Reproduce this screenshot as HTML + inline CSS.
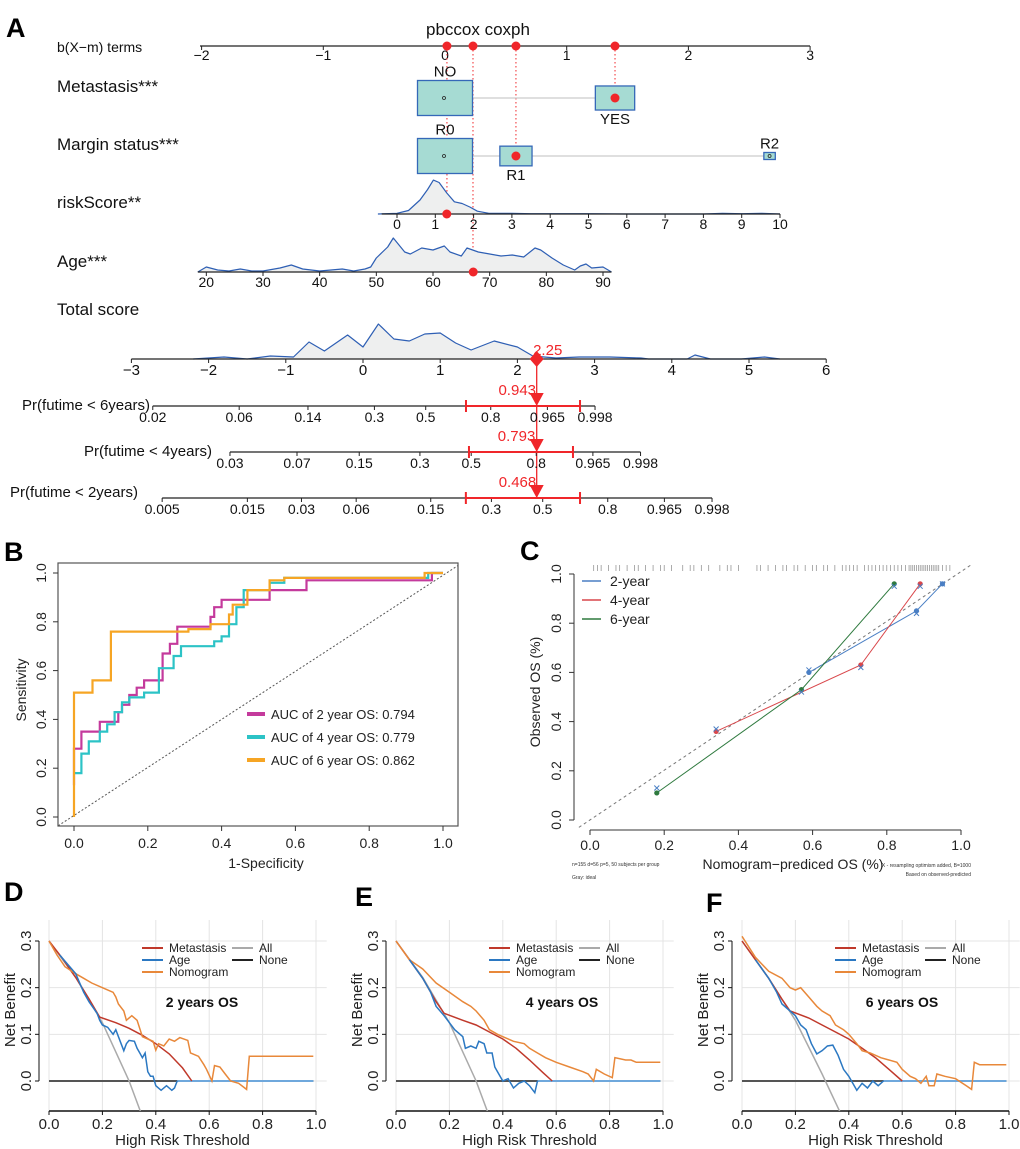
<!DOCTYPE html>
<html><head><meta charset="utf-8"><style>
html,body{margin:0;padding:0;background:#fff;}
svg{display:block;font-family:"Liberation Sans",Arial,sans-serif;}
</style></head><body>
<svg id="fig" width="1020" height="1149" viewBox="0 0 1020 1149">
<rect x="0" y="0" width="1020" height="1149" fill="#fff"/>
<text x="6" y="37" font-size="27" font-weight="bold">A</text>
<text x="4" y="561" font-size="27" font-weight="bold">B</text>
<text x="520" y="560" font-size="27" font-weight="bold">C</text>
<text x="4" y="901" font-size="27" font-weight="bold">D</text>
<text x="355" y="906" font-size="27" font-weight="bold">E</text>
<text x="706" y="912" font-size="27" font-weight="bold">F</text>
<g id="pa"></g>
<g id="pb"></g>
<g id="pc"></g>
<g id="pd"></g>
<g id="pe"></g>
<g id="pf"></g>
</svg>
<script>
// ---------- Panel A data ----------
const pointTicks=[-2,-1,0,1,2,3];
const termPoints=[0.016,0.23,0.583,1.397]; // riskScore, Age, Margin, Metastasis
const metCats=['NO','YES']; const metPoints=[0,1.397]; const metSizes=[1,0.55];
const marCats=['R0','R1','R2']; const marPoints=[0,0.583,2.667]; const marSizes=[1,0.45,0.16];
const riskTicks=[0,1,2,3,4,5,6,7,8,9,10];
const riskX=[-0.5,0,0.3,0.6,0.8,0.95,1.1,1.3,1.5,1.7,1.9,2.1,2.4,3,3.5,4,5,6,7,8,8.5,9,9.5,10];
const riskD=[0,0.02,0.1,0.4,0.7,0.97,0.9,0.6,0.35,0.3,0.2,0.08,0.02,0.02,0.01,0.01,0.01,0,0,0,0.02,0.01,0.02,0];
const riskValue=1.3;
const ageTicks=[20,30,40,50,60,70,80,90];
const ageX=[18.5,20,22,24,26,28,30,33,35,37,40,42,44,46,48,49,50,52,53,55,56,58,60,62,63,65,66,68,70,72,74,76,78,79,81,83,85,86,87,88,90,91.5];
const ageD=[0,5,2,1,3,1,1,4,7,3,1,2,3,1,3,5,14,25,34,20,18,24,22,26,20,16,24,20,18,16,17,15,24,22,14,7,2,6,8,4,5,0];
const ageValue=67.1;
const totTicks=[-3,-2,-1,0,1,2,3,4,5,6];
const totX=[-2.2,-1.8,-1.5,-1.2,-0.9,-0.7,-0.5,-0.2,0,0.2,0.4,0.6,0.8,1.0,1.2,1.4,1.7,2.0,2.2,2.5,2.8,3.2,3.6,3.7,4.2,4.3,4.5,4.9,5.2,5.4];
const totD=[0,2,0,3,2,17,8,24,12,35,20,18,25,26,16,9,18,12,3,1,2,2,1,0,0,4,0,0,2,0];
const totValue=2.25;
const prLabels=['Pr(futime < 6years)','Pr(futime < 4years)','Pr(futime < 2years)'];
const prTicks6=[0.02,0.06,0.14,0.3,0.5,0.8,0.965,0.998];
const prTicks4=[0.03,0.07,0.15,0.3,0.5,0.8,0.965,0.998];
const prTicks2=[0.005,0.015,0.03,0.06,0.15,0.3,0.5,0.8,0.965,0.998];
const prEst=[0.943,0.793,0.468];
const prLo=[0.689,0.49,0.226];
const prHi=[0.994,0.925,0.675];
// ---------- Panel B data ----------
const roc2F=[0,0,0.02,0.02,0.07,0.07,0.12,0.12,0.13,0.13,0.15,0.15,0.17,0.17,0.19,0.19,0.24,0.24,0.26,0.26,0.28,0.28,0.37,0.37,0.38,0.38,0.40,0.40,0.53,0.53,0.63,0.63,0.97,0.97,1];
const roc2T=[0.13,0.28,0.28,0.35,0.35,0.39,0.39,0.43,0.43,0.46,0.46,0.50,0.50,0.53,0.53,0.56,0.56,0.67,0.67,0.71,0.71,0.78,0.78,0.82,0.82,0.86,0.86,0.89,0.89,0.93,0.93,0.97,0.97,1,1];
const roc4F=[0,0.02,0.02,0.04,0.04,0.07,0.07,0.09,0.09,0.11,0.11,0.13,0.13,0.15,0.15,0.19,0.19,0.23,0.23,0.27,0.27,0.29,0.29,0.38,0.38,0.40,0.40,0.42,0.42,0.44,0.44,0.46,0.46,0.53,0.53,0.57,0.57,0.96,0.96,1];
const roc4T=[0.18,0.18,0.26,0.26,0.31,0.31,0.35,0.35,0.38,0.38,0.43,0.43,0.47,0.47,0.49,0.49,0.51,0.51,0.61,0.61,0.66,0.66,0.70,0.70,0.72,0.72,0.74,0.74,0.79,0.79,0.86,0.86,0.93,0.93,0.96,0.96,0.98,0.98,1,1];
const roc6F=[0,0,0.05,0.05,0.10,0.10,0.31,0.31,0.37,0.37,0.42,0.42,0.43,0.43,0.47,0.47,0.53,0.53,0.57,0.57,0.95,0.95,1];
const roc6T=[0,0.51,0.51,0.56,0.56,0.76,0.76,0.77,0.77,0.79,0.79,0.83,0.83,0.87,0.87,0.93,0.93,0.97,0.97,0.98,0.98,1,1];
const rocLegend=['AUC of 2 year OS:  0.794','AUC of 4 year OS:  0.779','AUC of 6 year OS:  0.862'];
const unitTicks=[0,0.2,0.4,0.6,0.8,1.0];
const unitLabels=['0.0','0.2','0.4','0.6','0.8','1.0'];
// ---------- Panel C data ----------
const cal2Pred=[0.59,0.88,0.95], cal2Obs=[0.60,0.85,0.96], cal2Adj=[0.61,0.84,0.96];
const cal4Pred=[0.34,0.73,0.89], cal4Obs=[0.36,0.63,0.96], cal4Adj=[0.37,0.62,0.95];
const cal6Pred=[0.18,0.57,0.82], cal6Obs=[0.11,0.53,0.96], cal6Adj=[0.13,0.52,0.95];
const rugVals=[0.01,0.02,0.03,0.05,0.07,0.08,0.1,0.12,0.13,0.15,0.17,0.19,0.2,0.22,0.25,0.27,0.28,0.3,0.32,0.35,0.37,0.38,0.4,0.45,0.46,0.48,0.5,0.52,0.53,0.55,0.56,0.58,0.6,0.61,0.63,0.64,0.66,0.68,0.69,0.7,0.71,0.72,0.74,0.75,0.76,0.77,0.78,0.79,0.8,0.81,0.82,0.83,0.84,0.85,0.86,0.865,0.87,0.875,0.88,0.885,0.89,0.895,0.9,0.905,0.91,0.915,0.92,0.925,0.93,0.935,0.94,0.95,0.96,0.97];
// ---------- Panel D/E/F data ----------
const dcaTicksY=[0,0.1,0.2,0.3];
const dcaLabelsY=['0.0','0.1','0.2','0.3'];
const dTitle='2 years OS', eTitle='4 years OS', fTitle='6 years OS';
const dAllT=[0,0.1,0.2,0.3,0.345], dAllNB=[0.3,0.222,0.125,0,-0.069];
const dMetT=[0,0.05,0.1,0.15,0.19,0.25,0.3,0.35,0.4,0.45,0.5,0.535], dMetNB=[0.3,0.263,0.222,0.176,0.137,0.125,0.113,0.098,0.08,0.058,0.028,0];
const dAgeT=[0.04,0.1,0.13,0.15,0.18,0.19,0.2,0.22,0.24,0.25,0.27,0.28,0.29,0.3,0.32,0.33,0.34,0.35,0.36,0.37,0.38,0.39,0.4,0.42,0.44,0.46,0.47,0.48];
const dAgeNB=[0.27,0.23,0.19,0.17,0.145,0.13,0.12,0.115,0.1,0.11,0.08,0.065,0.08,0.087,0.085,0.07,0.06,0.05,0.06,0.02,0.01,0.01,-0.01,-0.02,-0.01,-0.02,-0.015,0];
const dNomT=[0,0.03,0.06,0.1,0.13,0.16,0.2,0.24,0.25,0.26,0.28,0.29,0.31,0.33,0.35,0.37,0.39,0.4,0.41,0.43,0.45,0.47,0.49,0.52,0.53,0.56,0.58,0.59,0.61,0.62,0.64,0.66,0.68,0.71,0.74,0.75,0.99];
const dNomNB=[0.3,0.27,0.245,0.23,0.22,0.21,0.2,0.19,0.18,0.165,0.15,0.13,0.14,0.13,0.095,0.09,0.085,0.066,0.08,0.075,0.09,0.085,0.093,0.087,0.06,0.053,0.035,0.025,0,0.033,0.03,0.015,0,-0.005,-0.018,0.053,0.053];
const eAllT=[0,0.1,0.2,0.3,0.345], eAllNB=[0.3,0.222,0.125,0,-0.069];
const eMetT=[0,0.1,0.15,0.18,0.25,0.3,0.35,0.4,0.45,0.5,0.55,0.585], eMetNB=[0.3,0.22,0.17,0.145,0.13,0.12,0.105,0.09,0.07,0.045,0.018,0];
const eAgeT=[0.05,0.1,0.13,0.15,0.18,0.2,0.22,0.25,0.26,0.28,0.3,0.31,0.33,0.34,0.36,0.37,0.38,0.4,0.42,0.44,0.46,0.48,0.5,0.52,0.53];
const eAgeNB=[0.26,0.22,0.19,0.16,0.14,0.125,0.11,0.095,0.07,0.075,0.07,0.085,0.08,0.06,0.06,0.03,0.02,0,0.005,-0.015,-0.005,0,-0.01,-0.025,0];
const eNomT=[0,0.05,0.1,0.15,0.2,0.25,0.28,0.3,0.33,0.35,0.38,0.4,0.44,0.48,0.5,0.53,0.56,0.6,0.65,0.7,0.72,0.74,0.75,0.78,0.81,0.82,0.86,0.88,0.9,0.99];
const eNomNB=[0.3,0.26,0.24,0.21,0.19,0.17,0.16,0.15,0.13,0.11,0.1,0.095,0.085,0.08,0.07,0.06,0.05,0.04,0.03,0.02,0.015,0,0.025,0.015,0.007,0.05,0.045,0.045,0.04,0.04];
const fAllT=[0,0.1,0.2,0.3,0.37], fAllNB=[0.3,0.22,0.13,0.015,-0.07];
const fMetT=[0,0.1,0.15,0.18,0.25,0.3,0.35,0.4,0.45,0.5,0.55,0.6], fMetNB=[0.3,0.22,0.175,0.15,0.135,0.12,0.105,0.09,0.07,0.05,0.025,0];
const fAgeT=[0.05,0.1,0.13,0.15,0.18,0.2,0.22,0.24,0.26,0.28,0.3,0.32,0.34,0.36,0.38,0.4,0.41,0.43,0.45,0.47,0.49,0.51,0.53];
const fAgeNB=[0.26,0.22,0.19,0.165,0.15,0.14,0.12,0.11,0.08,0.058,0.065,0.075,0.077,0.055,0.025,0.01,0,-0.02,-0.005,-0.015,0,-0.01,0];
const fNomT=[0,0.05,0.1,0.15,0.18,0.2,0.22,0.25,0.28,0.3,0.33,0.35,0.38,0.4,0.43,0.45,0.48,0.52,0.55,0.58,0.6,0.63,0.65,0.67,0.69,0.7,0.72,0.73,0.76,0.8,0.84,0.86,0.87,0.89,0.99];
const fNomNB=[0.31,0.265,0.235,0.22,0.2,0.195,0.2,0.18,0.16,0.15,0.14,0.12,0.11,0.1,0.08,0.065,0.06,0.05,0.045,0.04,0.025,0.01,0.005,-0.005,0.01,-0.01,-0.01,0.015,0.01,0.005,-0.01,-0.018,0.04,0.035,0.035];

const NS='http://www.w3.org/2000/svg';
function mk(tag,attrs,parent,text){const e=document.createElementNS(NS,tag);for(const k in attrs)e.setAttribute(k,attrs[k]);if(text!==undefined)e.textContent=text;parent.appendChild(e);return e;}
function pts(xs,ys,fx,fy){return xs.map((v,i)=>fx(v).toFixed(1)+','+fy(ys[i]).toFixed(1)).join(' ');}

// ================= Panel A =================
(function(){
const g=document.getElementById('pa');
const RED='#f0262a';
const ptX=v=>445+v*121.7;
const rsX=v=>397+v*38.3;
const agX=v=>433+(v-60)*5.667;
const toX=v=>363+v*77.2;
const cll=p=>Math.log(-Math.log(1-p));
function hAxis(y,x1,x2,ticks,fx,lab,ly,fs,name){
  let e=mk('line',{x1:x1,x2:x2,y1:y,y2:y,stroke:'#222','stroke-width':1.3},g);
  
  
  ticks.forEach((t,i)=>{
    let tk=mk('line',{x1:fx(t),x2:fx(t),y1:y,y2:y+4,stroke:'#222','stroke-width':1},g);
    
    
    let tx=mk('text',{x:fx(t),y:ly,'font-size':fs,'text-anchor':'middle',fill:'#111'},g,lab(t));
    
    
  });
}
function lab(t,y,fs,name){const e=mk('text',{x:57,y:y,'font-size':fs,fill:'#111'},g,t);}
let t0=mk('text',{x:478,y:35,'font-size':17,'text-anchor':'middle',fill:'#111'},g,'pbccox coxph');


lab('b(X\u2212m) terms',52,14,'points-axis-label');
lab('Metastasis***',92,17,'metastasis-label');
lab('Margin status***',150,17,'margin-status-label');
lab('riskScore**',208,17,'riskscore-label');
lab('Age***',267,17,'age-label');
lab('Total score',315,17,'total-score-label');
hAxis(46,200,810,pointTicks,ptX,t=>String(t).replace('-','\u2212'),60,14,'points-axis');
const guideY=[214,272,156,98];
termPoints.forEach((p,i)=>{
  let l=mk('line',{x1:ptX(p),x2:ptX(p),y1:46,y2:guideY[i],stroke:RED,'stroke-width':1,'stroke-dasharray':'1.5,2.5'},g);
  
  
});
function cats(names,pnts,sizes,y,labelPos,name){
  let ln=mk('line',{x1:ptX(pnts[0]),x2:ptX(pnts[pnts.length-1]),y1:y,y2:y,stroke:'#ccc','stroke-width':1.3},g);
  
  
  pnts.forEach((p,i)=>{
    const w=55*sizes[i]*(i==0?1:1.3),h=35*sizes[i]*(i==0?1:1.25);
    const bw=i==0?55:w,bh=i==0?35:h;
    let r=mk('rect',{x:ptX(p)-bw/2,y:y-bh/2,width:bw,height:bh,fill:'#a6dbd3',stroke:'#3568b8','stroke-width':1.3},g);
    
    
    let c=mk('circle',{cx:ptX(p)-(i==0?1:0),cy:y,r:1.5,fill:'none',stroke:'#222','stroke-width':0.8},g);
    
    
    const ly=labelPos[i]=='above'?y-bh/2-4:y+bh/2+14;
    let tx=mk('text',{x:ptX(p),y:ly,'font-size':15,'text-anchor':'middle',fill:'#111'},g,names[i]);
    
    
  });
}
cats(metCats,metPoints,metSizes,98,['above','below'],'metastasis');
cats(marCats,marPoints,marSizes,156,['above','below','above'],'margin');
function dens(xs,ds,fx,y,scale,name){
  const p=pts(xs,ds,fx,v=>y-v*scale);
  let a=mk('polygon',{points:fx(xs[0])+','+y+' '+p+' '+fx(xs[xs.length-1])+','+y,fill:'#eeefef',stroke:'none'},g);
  
  
  let l=mk('polyline',{points:p,fill:'none',stroke:'#2e5fb4','stroke-width':1.2,'stroke-linejoin':'round'},g);
  
  
}
dens(riskX,riskD,rsX,214,35,'riskscore');
hAxis(214,rsX(-0.4),rsX(10),riskTicks,rsX,t=>String(t),229,14,'riskscore-axis');
dens(ageX,ageD,agX,272,1,'age');
hAxis(272,agX(18.5),agX(91.5),ageTicks,agX,t=>String(t),287,14,'age-axis');
dens(totX,totD,toX,359,1,'total-score');
hAxis(359,toX(-3),toX(6),totTicks,toX,t=>String(t).replace('-','\u2212'),375,15,'total-score-axis');
const dotX=[ptX(termPoints[0]),ptX(termPoints[1]),ptX(termPoints[2]),ptX(termPoints[3]),ptX(metPoints[1]),ptX(marPoints[1]),rsX(riskValue),agX(ageValue)];
const dotY=[46,46,46,46,98,156,214,272];
dotX.forEach((x,i)=>{let c=mk('circle',{cx:x,cy:dotY[i],r:4.5,fill:RED},g);});
const tx=toX(totValue);
let vl=mk('line',{x1:tx,x2:tx,y1:359,y2:498,stroke:RED,'stroke-width':1.3},g);


let dm=mk('polygon',{points:`${tx},351 ${tx+7},359 ${tx},367 ${tx-7},359`,fill:RED},g);


let tv=mk('text',{x:tx+11,y:355,'font-size':15,'text-anchor':'middle',fill:RED},g,String(totValue));


const prY=[406,452,498], prOff=[454,499.5,571], prTicks=[prTicks6,prTicks4,prTicks2], prLabX=[150,212,138];
prTicks.forEach((tk,i)=>{
  const fx=p=>prOff[i]+77.2*cll(p);
  hAxis(prY[i],fx(tk[0]),fx(tk[tk.length-1]),tk,fx,t=>String(t),prY[i]+16,14,'pr-axis-'+i);
  let l=mk('text',{x:prLabX[i],y:prY[i]+(i==0?4:(i==1?4:-1)),'font-size':15,'text-anchor':'end',fill:'#111'},g,prLabels[i]);
  
  
  const lo=fx(prLo[i]),hi=fx(prHi[i]),ex=fx(prEst[i]),y=prY[i];
  let ci=mk('path',{d:`M${lo},${y}H${hi}M${lo},${y-6}V${y+6}M${hi},${y-6}V${y+6}`,stroke:RED,'stroke-width':2,fill:'none'},g);
  
  
  let tr=mk('polygon',{points:`${tx-7},${y-13} ${tx+7},${y-13} ${tx},${y}`,fill:RED},g);
  
  
  let v=mk('text',{x:ex-18,y:y-11,'font-size':15,'text-anchor':'middle',fill:RED},g,prEst[i].toFixed(3));
  
  
});
})();

// ================= Panel B =================
(function(){
const g=document.getElementById('pb');
const X=v=>74+v*369, Y=v=>817-v*244;
let fr=mk('rect',{x:58,y:563,width:400,height:263,fill:'none',stroke:'#555','stroke-width':1.2},g);


let dg=mk('line',{x1:X(-0.043),y1:Y(-0.036),x2:X(1.04),y2:Y(1.03),stroke:'#555','stroke-width':1,'stroke-dasharray':'2,2'},g);


unitTicks.forEach((t,i)=>{
  let a=mk('line',{x1:X(t),x2:X(t),y1:826,y2:831,stroke:'#333'},g);
  
  
  let b=mk('text',{x:X(t),y:848,'font-size':14,'text-anchor':'middle',fill:'#222'},g,unitLabels[i]);
  
  
  let c=mk('line',{x1:53,x2:58,y1:Y(t),y2:Y(t),stroke:'#333'},g);
  
  
  let d=mk('text',{x:0,y:0,'font-size':14,'text-anchor':'middle',fill:'#222',transform:`translate(46,${Y(t)}) rotate(-90)`},g,unitLabels[i]);
  
  
});
let xl=mk('text',{x:266,y:868,'font-size':14,'text-anchor':'middle',fill:'#222'},g,'1-Specificity');


let yl=mk('text',{x:0,y:0,'font-size':14,'text-anchor':'middle',fill:'#222',transform:'translate(26,690) rotate(-90)'},g,'Sensitivity');


const series=[[roc2F,roc2T,'#c43a9c'],[roc4F,roc4T,'#2cc3c6'],[roc6F,roc6T,'#f6a524']];
series.forEach((s,i)=>{
  let l=mk('polyline',{points:pts(s[0],s[1],X,Y),fill:'none',stroke:s[2],'stroke-width':2.2},g);
  
  
  const ly=714+i*23;
  let k=mk('line',{x1:247,x2:265,y1:ly,y2:ly,stroke:s[2],'stroke-width':4},g);
  
  
  let t=mk('text',{x:271,y:ly+5,'font-size':13,fill:'#222'},g,rocLegend[i]);
  
  
});
})();

// ================= Panel C =================
(function(){
const g=document.getElementById('pc');
const X=v=>590+v*371, Y=v=>820-v*246;
let dg=mk('line',{x1:X(-0.03),y1:Y(-0.03),x2:X(1.03),y2:Y(1.04),stroke:'#777','stroke-width':1,'stroke-dasharray':'3,3'},g);


let ax=mk('line',{x1:X(0),x2:X(1),y1:830,y2:830,stroke:'#333'},g);


let ay=mk('line',{x1:574,x2:574,y1:Y(0),y2:Y(1),stroke:'#333'},g);


unitTicks.forEach((t,i)=>{
  let a=mk('line',{x1:X(t),x2:X(t),y1:830,y2:835,stroke:'#333'},g);
  
  
  let b=mk('text',{x:X(t),y:850,'font-size':14,'text-anchor':'middle',fill:'#222'},g,unitLabels[i]);
  
  
  let c=mk('line',{x1:569,x2:574,y1:Y(t),y2:Y(t),stroke:'#333'},g);
  
  
  let d=mk('text',{x:0,y:0,'font-size':14,'text-anchor':'middle',fill:'#222',transform:`translate(561,${Y(t)}) rotate(-90)`},g,unitLabels[i]);
  
  
});
rugVals.forEach(v=>{let r=mk('line',{x1:X(v),x2:X(v),y1:565,y2:571,stroke:'#888','stroke-width':0.7},g);});
const S=[[cal2Pred,cal2Obs,cal2Adj,'#4a7fc4','2-year'],[cal4Pred,cal4Obs,cal4Adj,'#d9474b','4-year'],[cal6Pred,cal6Obs,cal6Adj,'#2f7a3f','6-year']];
S.forEach((s,i)=>{
  let l=mk('polyline',{points:pts(s[0],s[1],X,Y),fill:'none',stroke:s[3],'stroke-width':1},g);
  
  
  s[0].forEach((p,j)=>{
    let c=mk('circle',{cx:X(p),cy:Y(s[1][j]),r:2.6,fill:s[3]},g);
    
    
    const cx=X(p),cy=Y(s[2][j]);
    let x=mk('path',{d:`M${cx-2.5},${cy-2.5}L${cx+2.5},${cy+2.5}M${cx+2.5},${cy-2.5}L${cx-2.5},${cy+2.5}`,stroke:'#4a7fc4','stroke-width':1},g);
    
    
  });
  const ly=581+i*19;
  let k=mk('line',{x1:582,x2:601,y1:ly,y2:ly,stroke:s[3],'stroke-width':1.5},g);
  
  
  let t=mk('text',{x:610,y:ly+5,'font-size':14,fill:'#222'},g,s[4]);
  
  
});
let xl=mk('text',{x:793,y:869,'font-size':14,'text-anchor':'middle',fill:'#222'},g,'Nomogram\u2212prediced OS (%)');


let yl=mk('text',{x:0,y:0,'font-size':14,'text-anchor':'middle',fill:'#222',transform:'translate(540,692) rotate(-90)'},g,'Observed OS (%)');


const notes=[[572,866,'start','n=155 d=56 p=5, 50 subjects per group'],[572,879,'start','Gray: ideal'],[971,867,'end','X - resampling optimism added, B=1000'],[971,876,'end','Based on observed-predicted']];
notes.forEach(n=>{let t=mk('text',{x:n[0],y:n[1],'font-size':5,'text-anchor':n[2],fill:'#333'},g,n[3]);});
})();

// ================= Panels D/E/F =================
function dca(id,x0,title,allT,allNB,metT,metNB,ageT,ageNB,nomT,nomNB,titleDx){
  const g=document.getElementById(id);
  const X=v=>x0+v*267, Y=v=>1081-v*466.7;
  [0,0.2,0.4,0.6,0.8,1.0].forEach(t=>{let l=mk('line',{x1:X(t),x2:X(t),y1:920,y2:1111,stroke:'#e4e4e4','stroke-width':1},g);});
  dcaTicksY.forEach(t=>{let l=mk('line',{x1:X(0),x2:X(1.04),y1:Y(t),y2:Y(t),stroke:'#e4e4e4','stroke-width':1},g);});
  let ax=mk('line',{x1:X(0),x2:X(1),y1:1111,y2:1111,stroke:'#111','stroke-width':1.5},g);
  
  
  let ay=mk('line',{x1:x0-10,x2:x0-10,y1:Y(0),y2:Y(0.3),stroke:'#111','stroke-width':1},g);
  
  
  unitTicks.forEach((t,i)=>{
    let a=mk('line',{x1:X(t),x2:X(t),y1:1111,y2:1115,stroke:'#111'},g);
    
    
    let b=mk('text',{x:X(t),y:1129,'font-size':15,'text-anchor':'middle',fill:'#222'},g,unitLabels[i]);
    
    
  });
  dcaTicksY.forEach((t,i)=>{
    let c=mk('line',{x1:x0-14,x2:x0-10,y1:Y(t),y2:Y(t),stroke:'#111'},g);
    
    
    let d=mk('text',{x:0,y:0,'font-size':15,'text-anchor':'middle',fill:'#222',transform:`translate(${x0-18},${Y(t)}) rotate(-90)`},g,dcaLabelsY[i]);
    
    
  });
  let xl=mk('text',{x:X(0.5),y:1145,'font-size':15,'text-anchor':'middle',fill:'#222'},g,'High Risk Threshold');
  
  
  let yl=mk('text',{x:0,y:0,'font-size':15,'text-anchor':'middle',fill:'#222',transform:`translate(${x0-34},1010) rotate(-90)`},g,'Net Benefit');
  
  
  const cp=mk('clipPath',{id:id+'clip'},g);
  mk('rect',{x:x0-5,y:915,width:285,height:196},cp);
  const cg=mk('g',{'clip-path':`url(#${id}clip)`},g);
  
  
  let none=mk('line',{x1:X(0),x2:X(0.99),y1:Y(0),y2:Y(0),stroke:'#555','stroke-width':2},cg);
  
  
  let all=mk('polyline',{points:pts(allT,allNB,X,Y),fill:'none',stroke:'#aaa','stroke-width':1.5},cg);
  
  
  let agz=mk('line',{x1:X(ageT[ageT.length-1]),x2:X(0.99),y1:Y(0),y2:Y(0),stroke:'#6fa8dc','stroke-width':2},cg);
  
  
  let met=mk('polyline',{points:pts(metT,metNB,X,Y),fill:'none',stroke:'#c0392b','stroke-width':1.5},cg);
  
  
  let nom=mk('polyline',{points:pts(nomT,nomNB,X,Y),fill:'none',stroke:'#e8883a','stroke-width':1.5},cg);
  
  
  let age=mk('polyline',{points:pts(ageT,ageNB,X,Y),fill:'none',stroke:'#2b78c2','stroke-width':1.5},cg);
  
  
  const leg=[['Metastasis','#c0392b',0,0],['Age','#2b78c2',0,1],['Nomogram','#e8883a',0,2],['All','#aaa',1,0],['None','#222',1,1]];
  leg.forEach(l=>{
    const lx=x0+(l[2]?183:93), ly=948+l[3]*12;
    let k=mk('line',{x1:lx,x2:lx+21,y1:ly,y2:ly,stroke:l[1],'stroke-width':2},g);
    
    
    let t=mk('text',{x:lx+27,y:ly+4,'font-size':12,fill:'#222'},g,l[0]);
    
    
  });
  let tt=mk('text',{x:x0+titleDx,y:1007,'font-size':14,'font-weight':'bold','text-anchor':'middle',fill:'#111'},g,title);
  
  
}
dca('pd',49,dTitle,dAllT,dAllNB,dMetT,dMetNB,dAgeT,dAgeNB,dNomT,dNomNB,153);
dca('pe',396,eTitle,eAllT,eAllNB,eMetT,eMetNB,eAgeT,eAgeNB,eNomT,eNomNB,166);
dca('pf',742,fTitle,fAllT,fAllNB,fMetT,fMetNB,fAgeT,fAgeNB,fNomT,fNomNB,160);
</script>
</body></html>
